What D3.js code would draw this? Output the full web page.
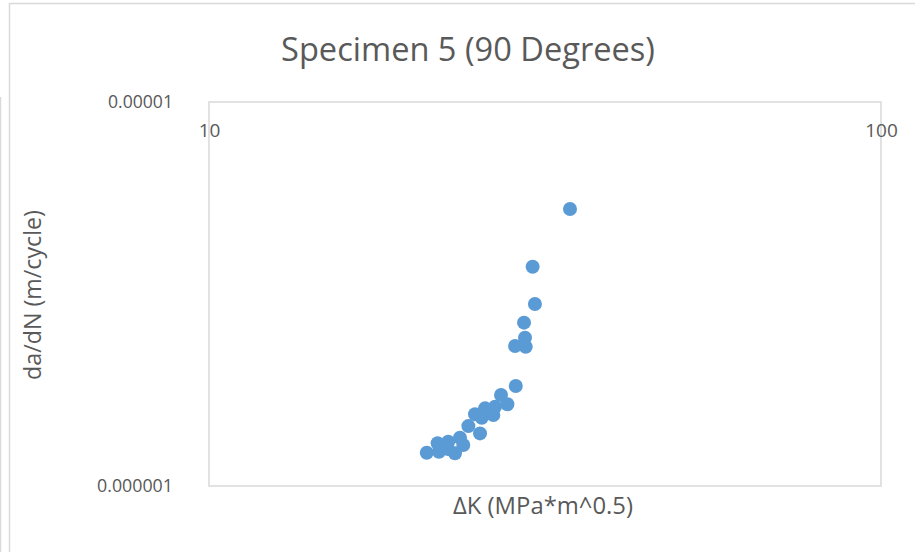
<!DOCTYPE html>
<html>
<head>
<meta charset="utf-8">
<script src="https://cdn.jsdelivr.net/npm/d3@7"></script>
<style>
  html, body { margin: 0; padding: 0; background: #fff; }
  svg { display: block; }
  text { font-family: "Open Sans", "Noto Sans", sans-serif; fill: #595959; }
</style>
</head>
<body>
<svg id="chart" width="915" height="552"></svg>
<script>
// Fatigue crack growth data: stress intensity range vs growth rate
const deltaK = [34.45, 30.31, 30.55, 29.43, 29.53, 28.54, 29.60, 28.61, 27.20, 27.80,
                26.65, 25.75, 24.88, 26.49, 25.46, 24.32, 25.31, 23.63, 23.90, 22.70,
                21.89, 23.23, 21.99, 21.09, 22.68];
const dadN = [5.265e-6, 3.725e-6, 2.979e-6, 2.663e-6, 2.433e-6, 2.315e-6, 2.305e-6, 1.821e-6, 1.726e-6, 1.632e-6,
              1.609e-6, 1.593e-6, 1.537e-6, 1.531e-6, 1.506e-6, 1.432e-6, 1.371e-6, 1.336e-6, 1.279e-6, 1.304e-6,
              1.292e-6, 1.217e-6, 1.228e-6, 1.221e-6, 1.248e-6];
const xTicks = [10, 100];
const xTickLabels = ["10", "100"];
const yTicks = [1e-5, 1e-6];
const yTickLabels = ["0.00001", "0.000001"];
const titleText = "Specimen 5 (90 Degrees)";
const xTitle = "ΔK (MPa*m^0.5)";
const yTitle = "da/dN (m/cycle)";

const svg = d3.select("#chart");
const W = 915, H = 552;
const plot = { left: 209, right: 881, top: 102, bottom: 486 };

// Chart frame
svg.append("rect")
  .attr("x", 9.5).attr("y", 3.5)
  .attr("width", W + 10).attr("height", H + 10)
  .attr("fill", "#fff").attr("stroke", "#d9d9d9").attr("stroke-width", 1.5);
svg.append("line")
  .attr("x1", 0.5).attr("x2", 0.5).attr("y1", 97).attr("y2", H)
  .attr("stroke", "#d9d9d9").attr("stroke-width", 1.5);

const x = d3.scaleLog().domain([10, 100]).range([plot.left, plot.right]);
const y = d3.scaleLog().domain([1e-6, 1e-5]).range([plot.bottom, plot.top]);

// Plot area border
svg.append("rect")
  .attr("x", plot.left).attr("y", plot.top)
  .attr("width", plot.right - plot.left).attr("height", plot.bottom - plot.top)
  .attr("fill", "none").attr("stroke", "#d9d9d9").attr("stroke-width", 1.5);

// Helper: fit a text element to a given width by adjusting font size
function fitWidth(sel, target) {
  const node = sel.node();
  const fs = parseFloat(sel.attr("font-size"));
  const w = node.getComputedTextLength();
  sel.attr("font-size", (fs * target / w).toFixed(2));
}

// Y axis tick labels (narrow glyphs: squeeze horizontally to fit width)
const yAxis = d3.axisLeft(y).tickValues(yTicks)
  .tickFormat((d, i) => yTickLabels[i]).tickSize(0).tickPadding(0);
const yg = svg.append("g").attr("transform", `translate(${173},0)`).call(yAxis);
yg.select(".domain").remove();
yg.selectAll("text").attr("font-size", 18).attr("fill", "#595959")
  .style("font-family", "'Open Sans', sans-serif")
  .each(function() {
    const target = this.textContent.length === 7 ? 65 : 76;
    const sx = target / this.getComputedTextLength();
    d3.select(this).attr("transform", `scale(${sx.toFixed(3)},1)`);
  });

// X axis tick labels (drawn under the top edge)
const xAxis = d3.axisBottom(x).tickValues(xTicks)
  .tickFormat((d, i) => xTickLabels[i]).tickSize(0).tickPadding(0);
const xg = svg.append("g").attr("transform", `translate(0,${123})`).call(xAxis);
xg.select(".domain").remove();
xg.selectAll("text").attr("font-size", 19).attr("fill", "#595959")
  .style("font-family", "'Open Sans', sans-serif");

// Points
svg.append("g").selectAll("circle")
  .data(deltaK.map((k, i) => [k, dadN[i]]))
  .join("circle")
  .attr("cx", d => x(d[0]))
  .attr("cy", d => y(d[1]))
  .attr("r", 7)
  .attr("fill", "#5b9bd5");

// Title
const t = svg.append("text")
  .attr("x", 468).attr("y", 61)
  .attr("text-anchor", "middle")
  .attr("font-size", 26)
  .text(titleText);
fitWidth(t, 374);

// Axis titles
const xt = svg.append("text")
  .attr("x", 543).attr("y", 514)
  .attr("text-anchor", "middle")
  .attr("font-size", 17)
  .text(xTitle);
fitWidth(xt, 180);

const yt = svg.append("text")
  .attr("transform", `translate(41,295) rotate(-90)`)
  .attr("text-anchor", "middle")
  .attr("font-size", 17)
  .text(yTitle);
fitWidth(yt, 170);
</script>
</body>
</html>
